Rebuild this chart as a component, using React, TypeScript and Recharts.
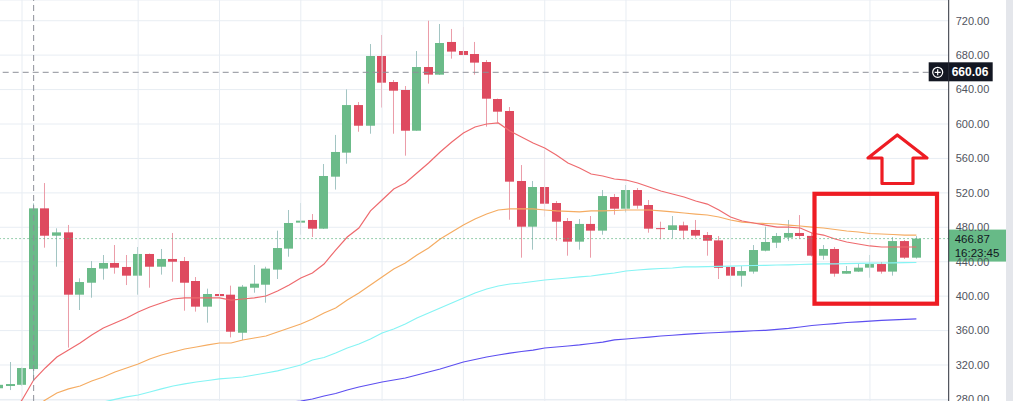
import React from "react";
import { Bar, CartesianGrid, ComposedChart, Line, ReferenceLine, XAxis, YAxis } from "recharts";

// daily candles (oldest first)
const opens = [
  293, 295.6, 297, 315.3, 502, 470.2, 474.1, 401.7, 415.6, 432,
  438.5, 433.9, 423.8, 449, 434.2, 443.2, 440.8, 417.6, 387.8, 402.5,
  401.7, 357.5, 409.8, 413.3, 430.8, 455.2, 485.4, 488.5, 478.4, 538.8,
  566.7, 622, 598, 679, 648.8, 639.5, 592.2, 666.2, 657.3, 695.3,
  684.8, 681.3, 672, 629, 615.1, 533.8, 480.7, 526.8, 508.2, 487.3,
  463.3, 483.9, 476.1, 515.2, 501.6, 523.3, 505.9, 479, 476.9, 482.3,
  476.9, 471, 464.8, 433.9, 423.8, 428.5, 452.8, 462.1, 468, 473.4,
  470, 447, 454.8, 426.1, 428.5, 433.1, 437.3, 428.5, 464, 444.7,
];
const highs = [
  299, 323.5, 317, 507.8, 531.4, 478.8, 482.7, 420.7, 440.8, 447.8,
  459.4, 447.8, 457.1, 449.5, 454.8, 473.4, 445.5, 422.2, 408.7, 412.2,
  412.2, 413, 436.2, 434.2, 476.1, 500.1, 508.2, 495.4, 553.5, 587.3,
  640.2, 625.5, 692.9, 703.4, 651.1, 644.1, 684.8, 720, 716.2, 710.4,
  712.7, 695.3, 674.3, 629.5, 619.7, 552.3, 533.8, 569.8, 510.5, 490.8,
  489.6, 493.1, 523.3, 518.7, 529.1, 525.6, 511.7, 486.5, 493.1, 486.5,
  488.5, 474.5, 469.8, 436.2, 435, 459.4, 480.7, 473.4, 488.5, 494.2,
  474, 459.4, 457.1, 435, 438.5, 447.8, 439.7, 468.7, 465.2, 469.8,
];
const lows = [
  291, 290.9, 296, 302.5, 456.3, 434.2, 340.2, 383.9, 398.2, 419.2,
  426.1, 412.9, 401.7, 409.8, 425, 416.8, 383.1, 382, 369.2, 384.3,
  352.1, 349, 404, 392.4, 419.9, 445.8, 471.4, 468.7, 478, 523.8,
  553.9, 591, 588.7, 619.1, 588.7, 563.2, 592, 646.9, 657, 675.9,
  680, 657.3, 596.9, 601.5, 488.8, 444.7, 454, 492.3, 464.4, 447,
  454, 444.7, 471.4, 494.6, 497.3, 501.6, 473.7, 466, 467.5, 466,
  468, 447, 419.9, 399.4, 411, 426.1, 452, 455.9, 464, 466.3,
  446, 442.4, 422.6, 426, 428, 421.4, 426.1, 423.8, 443.2, 443.5,
];
const closes = [
  297, 297.9, 316.5, 502, 470.2, 474.1, 401.7, 416.4, 432.7, 438.5,
  433.1, 423.8, 449, 434.2, 443.2, 440, 415.6, 387.8, 402.5, 400.1,
  358.7, 411, 414.5, 432, 455.9, 485, 487.7, 478.4, 539.6, 567.5,
  622, 598, 679, 648, 638.7, 592.2, 666.2, 657.3, 694.1, 684.1,
  680.2, 671.3, 629.4, 614.3, 533, 480.7, 526.8, 507.4, 486.5, 463.3,
  483.9, 476.1, 516.3, 501.6, 523.3, 505.1, 478.4, 478, 482.3, 476.1,
  470.3, 464.4, 432.9, 423.8, 429.2, 453.6, 462.9, 469.9, 473.4, 469.9,
  447, 454.8, 426.1, 429.2, 433.1, 437.3, 428.5, 464, 444.7, 466.87,
];

// moving averages
const maRed = [
  245, 260, 279.4, 302.6, 316.6, 329.3, 337.5, 345.6, 354.9, 363,
  368.8, 374.6, 381.6, 387.4, 392.1, 396.7, 397.9, 397.9, 397.9, 397.9,
  395.5, 396.7, 397.9, 400.2, 406, 413, 421.1, 426.9, 437.3, 453.6,
  468.7, 479.2, 499, 511.7, 524.5, 531.5, 543.1, 554.7, 567.5, 579.1,
  589.6, 596.5, 600, 601.2, 591.9, 584.9, 577.9, 572.1, 564, 554.7,
  548.9, 541.9, 539.6, 536.1, 534.9, 531.5, 526.8, 522.2, 518.7, 515.2,
  510.5, 507, 500.1, 492, 487.3, 485, 482.6, 480.3, 480.3, 479.2,
  473.4, 471, 466.4, 462.9, 460.6, 458.3, 457.1, 457.1, 457.1, 457.1,
];
const maOrange = [
  257, 261, 265, 270, 279.4, 287.5, 292.2, 295.6, 301.4, 306.1,
  311.9, 316.5, 321.2, 327, 331.6, 335.1, 338.6, 340.9, 343.3, 345.6,
  345.6, 349.1, 351.4, 353.7, 358.4, 363, 367.7, 373.5, 380.4, 386.2,
  395.5, 403.6, 413, 422.2, 431.5, 438.5, 447.8, 456, 466.4, 474.5,
  482.6, 489.6, 495.4, 500.1, 501.3, 501.3, 501.3, 500.1, 499, 498.4,
  497.8, 499, 499, 499.5, 500.1, 500.1, 500.1, 499, 497.8, 496.6,
  495.4, 494.3, 492, 488.5, 486.1, 485, 484.4, 483.8, 482.6, 481.5,
  480.3, 479.2, 477.4, 475.7, 474.5, 472.8, 472.2, 471.6, 471, 471,
];
const maCyan = [
  248, 251, 254, 257, 260, 264, 268, 271, 274, 277,
  280, 282.9, 285.2, 288.7, 292.2, 295.6, 298, 300.3, 302, 303.8,
  304.9, 306.1, 308.4, 310.7, 313.1, 316.5, 320, 325.8, 328.7, 333.9,
  339.8, 344.4, 350.2, 357.2, 361.9, 367.6, 374.6, 380.4, 386.2, 392.1,
  397.9, 403.6, 408.3, 411.8, 414.1, 415.3, 417, 418.8, 419.9, 421.1,
  422.3, 423.4, 425.2, 426.9, 429.2, 430.4, 431.5, 432.1, 432.7, 433.9,
  434.1, 434.3, 434.6, 435, 435.3, 435.6, 435.8, 436.2, 436.4, 436.8,
  437.1, 437.4, 437.6, 437.8, 438, 438.3, 438.5, 438.7, 438.9, 439.1,
];
const maBlue = [
  null, null, null, null, null, null, null, null, null, null,
  null, null, null, null, null, null, null, null, null, null,
  null, null, 270, 272, 274, 276.5, 278.2, 280.5, 284, 286.9,
  291, 294.5, 297.4, 300.3, 302.6, 304.9, 308.4, 311.9, 315.4, 319.4,
  323.5, 326.4, 329.3, 331.6, 333.9, 335.7, 337.4, 339.8, 340.9, 342.1,
  343.3, 345, 346.7, 349.1, 350.2, 351.4, 352.5, 353.7, 354.6, 355.5,
  356.4, 357.2, 357.8, 358.4, 359.1, 359.8, 360.3, 361.3, 362.5, 364.2,
  365.9, 367.1, 368.2, 369.4, 370.2, 371.1, 371.9, 372.5, 373.1, 373.7,
];

const priceTicks = [280, 320, 360, 400, 440, 480, 520, 560, 600, 640, 680, 720];
const gridCandles = [2, 12, 19, 26, 33, 40, 47, 54, 63, 75];
const crossIndex = 3;
const crossPrice = 660.06;
const lastPrice = 466.87;
const lastTime = "16:23:45";

const data = opens.map((o, i) => ({
  i,
  o,
  h: highs[i],
  l: lows[i],
  c: closes[i],
  red: maRed[i],
  orange: maOrange[i],
  cyan: maCyan[i],
  blue: maBlue[i],
}));

const UP = "#6bbb89";
const DOWN = "#de4a5f";
const UP_WICK = "#a2c5c3";
const DOWN_WICK = "#eb9ca8";
const GRID = "#e8edf3";
const FONT = "'Liberation Sans', Arial, sans-serif";

function Candle(props: any) {
  const { x, y, width, height, payload } = props;
  if (x == null || y == null || !payload) return <g />;
  const { o, h, l, c } = payload;
  const top = Math.min(y, y + height);
  const span = Math.abs(height);
  const k = h - l > 0 ? span / (h - l) : 0;
  const yOf = (v: number) => top + (h - v) * k;
  const up = c >= o;
  const bx = Math.round(x + width / 2 - 4.5);
  const cx = bx + 4.5;
  const bTop = yOf(Math.max(o, c));
  const bH = Math.max(1, yOf(Math.min(o, c)) - bTop);
  return (
    <g>
      <line x1={cx} x2={cx} y1={top} y2={top + span} stroke={up ? UP_WICK : DOWN_WICK} strokeWidth={1} />
      <rect x={bx} y={bTop} width={9} height={bH} fill={up ? UP : DOWN} />
    </g>
  );
}

function CrossBadge(props: any) {
  const vb = props.viewBox;
  if (!vb) return <g />;
  const r = vb.x + vb.width;
  const y = vb.y;
  return (
    <g>
      <rect x={r - 20} y={y - 10} width={64} height={19} fill="#131722" />
      <circle cx={r - 11} cy={y} r={5} fill="none" stroke="#fff" strokeWidth={1.2} />
      <path d={`M${r - 11} ${y - 3}v6M${r - 14} ${y}h6`} stroke="#fff" strokeWidth={1.2} />
      <text x={r + 3} y={y + 4} fill="#fff" fontSize={12} fontWeight="bold" fontFamily={FONT}>
        {crossPrice.toFixed(2)}
      </text>
    </g>
  );
}

function LastBadge(props: any) {
  const vb = props.viewBox;
  if (!vb) return <g />;
  const r = vb.x + vb.width;
  const y = vb.y;
  return (
    <g>
      <rect x={r} y={y - 9} width={60} height={32} fill="#67ba87" />
      <text x={r + 6} y={y + 4} fill="#131722" fontSize={11.5} fontFamily={FONT}>
        {lastPrice.toFixed(2)}
      </text>
      <text x={r + 6} y={y + 18} fill="#131722" fontSize={11.5} fontFamily={FONT}>
        {lastTime}
      </text>
    </g>
  );
}

export default function App() {
  return (
    <div style={{ position: "absolute", left: 0, top: 0, width: 1013, height: 401, overflow: "hidden", background: "#fff" }}>
      <div style={{ position: "absolute", left: -6.7, top: 0 }}>
        <ComposedChart width={1019.7} height={401} data={data} margin={{ top: 0, right: 0, bottom: 0, left: 0 }}>
          <CartesianGrid stroke={GRID} vertical={false} />
          <XAxis dataKey="i" type="category" hide padding={{ left: 0, right: 26.5 }} />
          <YAxis
            orientation="right"
            width={64}
            domain={[278.2, 744.05]}
            allowDataOverflow
            ticks={priceTicks}
            interval={0}
            tickFormatter={(v: number) => v.toFixed(2)}
            axisLine={{ stroke: "#2a2e39" }}
            tickLine={false}
            tickSize={5}
            tickMargin={2}
            tick={{ fill: "#51545e", fontSize: 11, fontFamily: FONT }}
          />
          {gridCandles.map((g) => (
            <ReferenceLine key={g} x={g} stroke={GRID} strokeWidth={1} />
          ))}
          <Bar dataKey={(d: any) => [d.l, d.h]} barSize={9} shape={Candle} isAnimationActive={false} />
          <Line dataKey="blue" type="linear" stroke="#5d4ff0" strokeWidth={1.2} dot={false} isAnimationActive={false} />
          <Line dataKey="cyan" type="linear" stroke="#86f4f4" strokeWidth={1.2} dot={false} isAnimationActive={false} />
          <Line dataKey="orange" type="linear" stroke="#f5ac62" strokeWidth={1.2} dot={false} isAnimationActive={false} />
          <Line dataKey="red" type="linear" stroke="#ee6a6e" strokeWidth={1.2} dot={false} isAnimationActive={false} />
          <ReferenceLine y={lastPrice} stroke="#5fb583" strokeDasharray="1.3 2.7" label={(p: any) => <LastBadge {...p} />} />
          <ReferenceLine x={crossIndex} stroke="#8d9099" strokeDasharray="6 4" />
          <ReferenceLine y={crossPrice} stroke="#8d9099" strokeDasharray="6 4" label={(p: any) => <CrossBadge {...p} />} />
        </ComposedChart>
      </div>
      <div style={{ position: "absolute", left: 1006, top: 0, width: 7, height: 401, background: "#e4e6eb" }} />
      <svg width={1013} height={401} style={{ position: "absolute", left: 0, top: 0, pointerEvents: "none" }}>
        <rect x={814.5} y={193.8} width={122.5} height={109.9} fill="none" stroke="#ee1c23" strokeWidth={4.2} />
        <polygon
          points="897.3,135 927,158 913,158 913,183.5 882,183.5 882,158 868,158"
          fill="none"
          stroke="#ee1c23"
          strokeWidth={3.2}
          strokeLinejoin="round"
        />
      </svg>
    </div>
  );
}
